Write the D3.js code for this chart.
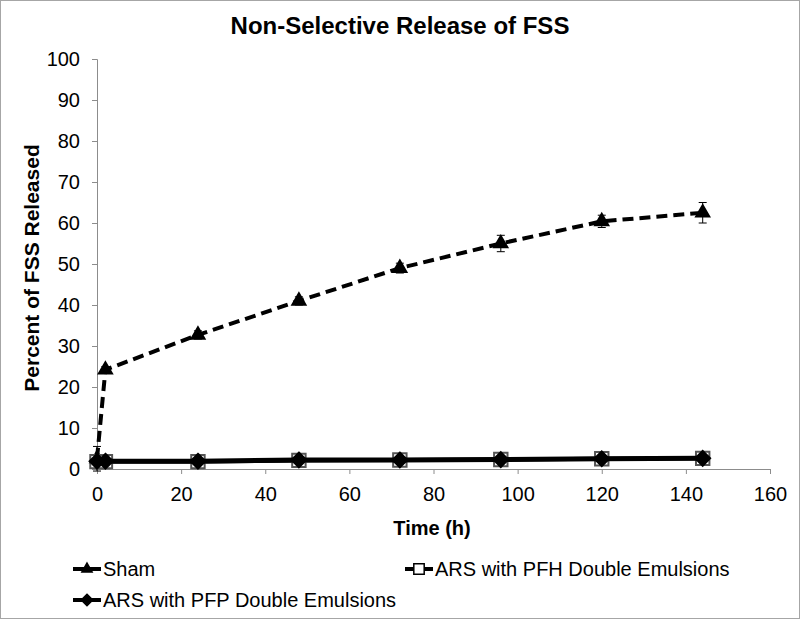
<!DOCTYPE html>
<html lang="en">
<head>
    <meta charset="UTF-8">
    <title>Non-Selective Release of FSS</title>
    <style>
        body { margin: 0; background: #fff; }
        svg { display: block; font-family: "Liberation Sans", Arial, sans-serif; }
    </style>
</head>
<body>
    <div id="chart"></div>
    <script src="https://d3js.org/d3.v7.min.js"></script>
    <script>
        // 数据
        const times = [0, 2, 24, 48, 72, 96, 120, 144];
        const shamValues = [2.5, 24.2, 32.7, 41.0, 49.0, 55.0, 60.4, 62.5];
        const shamErrors = [3.0, 0.8, 1.0, 1.0, 1.2, 2.0, 1.5, 2.5];
        const pfhValues = [1.8, 1.8, 1.8, 2.1, 2.2, 2.3, 2.5, 2.6];
        const pfhErrors = [0.4, 0.4, 0.4, 0.4, 0.4, 0.4, 0.4, 0.4];
        const pfpValues = [1.9, 1.9, 1.9, 2.2, 2.2, 2.3, 2.5, 2.6];
        const pfpErrors = [0.3, 0.3, 0.3, 0.3, 0.3, 0.3, 0.3, 0.3];
        const seriesNames = ["Sham", "ARS with PFH Double Emulsions", "ARS with PFP Double Emulsions"];
        const xTicks = [0, 20, 40, 60, 80, 100, 120, 140, 160];
        const yTicks = [0, 10, 20, 30, 40, 50, 60, 70, 80, 90, 100];

        const width = 800, height = 619;

        const svg = d3.select("#chart").append("svg")
            .attr("width", width)
            .attr("height", height);

        // 外框
        svg.append("rect")
            .attr("x", 0.5).attr("y", 0.5)
            .attr("width", width - 1).attr("height", height - 1)
            .attr("fill", "#fff")
            .attr("stroke", "#a6a6a6");

        const x = d3.scaleLinear().domain([0, 160]).range([97, 770]);
        const y = d3.scaleLinear().domain([0, 100]).range([469, 59]);

        // 坐标轴
        const xAxis = svg.append("g")
            .attr("transform", `translate(0, ${y(0)})`)
            .call(d3.axisBottom(x).tickValues(xTicks).tickSize(5).tickPadding(13));
        const yAxis = svg.append("g")
            .attr("transform", `translate(${x(0)}, 0)`)
            .call(d3.axisLeft(y).tickValues(yTicks).tickSize(5).tickPadding(12));
        [xAxis, yAxis].forEach(a => {
            a.select(".domain").attr("stroke", "#8c8c8c");
            a.selectAll(".tick line").attr("stroke", "#8c8c8c");
            a.selectAll(".tick text")
                .attr("font-size", 20)
                .attr("font-family", "Liberation Sans, Arial, sans-serif")
                .attr("fill", "#000");
        });

        // 标题
        svg.append("text")
            .text("Non-Selective Release of FSS")
            .attr("x", 400).attr("y", 34)
            .attr("text-anchor", "middle")
            .attr("font-size", 24)
            .attr("font-weight", "bold");

        svg.append("text")
            .text("Time (h)")
            .attr("x", 432).attr("y", 535)
            .attr("text-anchor", "middle")
            .attr("font-size", 20)
            .attr("font-weight", "bold");

        svg.append("text")
            .text("Percent of FSS Released")
            .attr("transform", `translate(39, 268) rotate(-90)`)
            .attr("text-anchor", "middle")
            .attr("font-size", 21)
            .attr("font-weight", "bold");

        // 菱形标记（正方形旋转45°）
        const diamond = {
            draw(ctx, size) {
                const r = Math.sqrt(size / 2);
                ctx.moveTo(0, -r);
                ctx.lineTo(r, 0);
                ctx.lineTo(0, r);
                ctx.lineTo(-r, 0);
                ctx.closePath();
            }
        };

        const series = [
            { name: seriesNames[0], values: shamValues, errors: shamErrors, dash: "11,6", width: 4, symbol: d3.symbolTriangle, size: 75, fill: "#000", stroke: "#000" },
            { name: seriesNames[1], values: pfhValues, errors: pfhErrors, dash: null, width: 4, symbol: d3.symbolSquare, size: 180, fill: "#fff", stroke: "#555" },
            { name: seriesNames[2], values: pfpValues, errors: pfpErrors, dash: null, width: 5, symbol: diamond, size: 110, fill: "#000", stroke: "#000" }
        ];

        const line = d3.line()
            .x(d => x(d.t))
            .y(d => y(d.v));

        series.forEach(s => {
            const pts = times.map((t, i) => ({ t: t, v: s.values[i], e: s.errors[i] }));
            const g = svg.append("g");
            g.append("path")
                .datum(pts)
                .attr("d", line)
                .attr("fill", "none")
                .attr("stroke", "#000")
                .attr("stroke-width", s.width)
                .attr("stroke-dasharray", s.dash);
            // 误差线
            const eb = g.selectAll(".eb").data(pts).join("g");
            eb.append("line")
                .attr("x1", d => x(d.t)).attr("x2", d => x(d.t))
                .attr("y1", d => y(d.v - d.e)).attr("y2", d => y(d.v + d.e))
                .attr("stroke", "#000").attr("stroke-width", 1);
            eb.append("line")
                .attr("x1", d => x(d.t) - 4).attr("x2", d => x(d.t) + 4)
                .attr("y1", d => y(d.v + d.e)).attr("y2", d => y(d.v + d.e))
                .attr("stroke", "#000").attr("stroke-width", 1);
            eb.append("line")
                .attr("x1", d => x(d.t) - 4).attr("x2", d => x(d.t) + 4)
                .attr("y1", d => y(d.v - d.e)).attr("y2", d => y(d.v - d.e))
                .attr("stroke", "#000").attr("stroke-width", 1);
            g.selectAll(".pt").data(pts).join("path")
                .attr("transform", d => `translate(${x(d.t)}, ${y(d.v)})`)
                .attr("d", d3.symbol().type(s.symbol).size(s.size))
                .attr("fill", s.fill)
                .attr("stroke", s.stroke)
                .attr("stroke-width", 2);
        });

        // 图例
        const legendPos = [[73, 569], [405, 569], [73, 600]];
        series.forEach((s, i) => {
            const [lx, ly] = legendPos[i];
            const lg = svg.append("g").attr("transform", `translate(${lx}, ${ly})`);
            lg.append("line")
                .attr("x1", 0).attr("x2", 28)
                .attr("stroke", "#000").attr("stroke-width", 4);
            lg.append("path")
                .attr("transform", "translate(14, 0)")
                .attr("d", d3.symbol().type(s.symbol).size(s.size * 0.6))
                .attr("fill", s.fill)
                .attr("stroke", "#000")
                .attr("stroke-width", 1.5);
            lg.append("text")
                .text(s.name)
                .attr("x", 30).attr("y", 7)
                .attr("font-size", 20);
        });
    </script>
</body>
</html>
